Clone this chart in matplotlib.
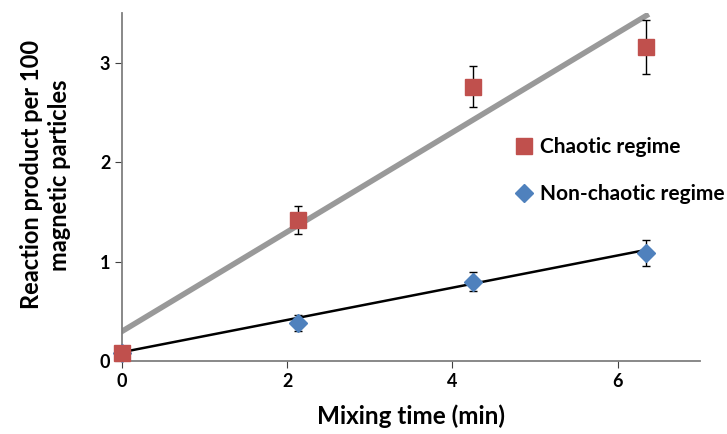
import numpy as np
import matplotlib.pyplot as plt

plt.rcParams["font.family"] = ["Lato", "DejaVu Sans"]
plt.rcParams["font.weight"] = "bold"

time_min = [0.0, 2.13, 4.25, 6.35]
chaotic = [0.08, 1.42, 2.76, 3.16]
chaotic_err = [0.0, 0.14, 0.21, 0.27]
non_chaotic = [0.08, 0.38, 0.80, 1.09]
non_chaotic_err = [0.0, 0.08, 0.10, 0.13]
# linear trendlines (slope, intercept)
chaotic_fit = (0.50, 0.30)
non_chaotic_fit = (0.162, 0.09)

fig = plt.figure(figsize=(7.27, 4.34), dpi=100)
ax = fig.add_axes([0.168, 0.168, 0.795, 0.802])

xs = np.array([0, time_min[-1]])
ax.plot(xs, chaotic_fit[0] * xs + chaotic_fit[1], color="#999999", lw=4, zorder=1)
ax.plot(xs, non_chaotic_fit[0] * xs + non_chaotic_fit[1], color="black", lw=1.8, zorder=1)

ax.errorbar(time_min, chaotic, yerr=chaotic_err, fmt="none", ecolor="black",
            elinewidth=1, capsize=3, zorder=2)
ax.errorbar(time_min, non_chaotic, yerr=non_chaotic_err, fmt="none", ecolor="black",
            elinewidth=1, capsize=3, zorder=2)
h2, = ax.plot(time_min, non_chaotic, "D", color="#4F81BD", ms=9, ls="none", zorder=3,
              label="Non-chaotic regime", clip_on=False)
h1, = ax.plot(time_min, chaotic, "s", color="#C0504D", ms=11, ls="none", zorder=4,
              label="Chaotic regime", clip_on=False)

ax.set_xlim(0, 7)
ax.set_ylim(0, 3.5)
ax.set_xticks([0, 2, 4, 6])
ax.set_yticks([0, 1, 2, 3])
ax.tick_params(labelsize=13, length=5, color="#404040")
for lab in ax.get_xticklabels() + ax.get_yticklabels():
    lab.set_fontweight("bold")
for s in ["top", "right"]:
    ax.spines[s].set_visible(False)
for s in ["left", "bottom"]:
    ax.spines[s].set_color("#7f7f7f")
    ax.spines[s].set_linewidth(1.3)

ax.set_xlabel("Mixing time (min)", fontsize=17.5, fontweight="bold")
ax.xaxis.set_label_coords(0.5, -0.125)
ax.set_ylabel("Reaction product per 100\nmagnetic particles", fontsize=17,
              fontweight="bold", linespacing=1.3)
ax.yaxis.set_label_coords(-0.088, 0.535)

fig.legend(handles=[h1, h2], loc="upper left", bbox_to_anchor=(0.678, 0.728),
           frameon=False, labelspacing=1.3, handletextpad=0.15,
           handlelength=1.2, prop={"weight": "bold", "size": 15})

fig.savefig("out.png", dpi=100)
